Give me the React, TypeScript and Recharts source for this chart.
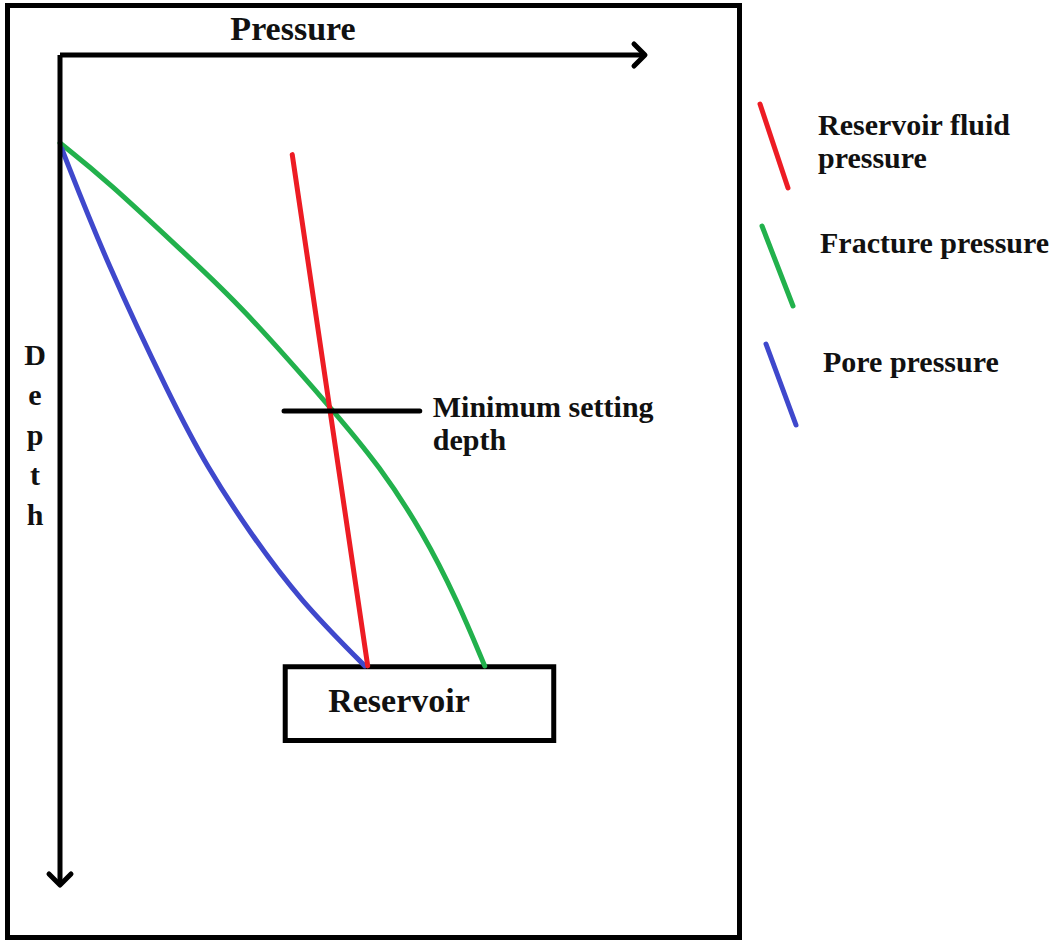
import React from "react";
import {
  ComposedChart,
  Line,
  XAxis,
  YAxis,
  ReferenceLine,
  ReferenceArea,
  Legend,
} from "recharts";

// schematic units: pressure 0-100 (left to right), depth 0-100 (top to bottom)
const fracturePressure = [
  { p: 0, d: 10.6 },
  { p: 8.0, d: 15.1 },
  { p: 22.2, d: 24.5 },
  { p: 30.5, d: 29.9 },
  { p: 46.7, d: 42.8 },
  { p: 54.7, d: 49.6 },
  { p: 62.1, d: 57.6 },
  { p: 67.9, d: 65.7 },
  { p: 72.6, d: 73.6 },
];

const porePressure = [
  { p: 0.3, d: 11.3 },
  { p: 8.0, d: 25.1 },
  { p: 19.1, d: 41.6 },
  { p: 25.1, d: 49.6 },
  { p: 32.5, d: 57.6 },
  { p: 41.0, d: 65.7 },
  { p: 52.1, d: 73.6 },
];

const reservoirFluidPressure = [
  { p: 39.7, d: 12.0 },
  { p: 52.6, d: 73.6 },
];

const minSettingDepth = 42.9;
const minSettingSpan = [38.3, 61.5];
const reservoirTop = 73.7;
const reservoirBottom = 82.6;
const reservoirSpan = [38.5, 84.4];

const legendOrder = ["Reservoir fluid pressure", "Fracture pressure", "Pore pressure"];

const FONT = "'Liberation Serif', 'Times New Roman', serif";

function ChartLegend({ payload }: any) {
  const items = legendOrder.map((name) =>
    (payload || []).find((p: any) => p.value === name)
  );
  const colorOf = (i: number) => (items[i] ? items[i].color : "#000");
  const textStyle = { fontFamily: FONT, fontWeight: 700, fontSize: 30, fill: "#111" };
  return (
    <svg width={314} height={345}>
      <line x1={20} y1={14} x2={48} y2={98} stroke={colorOf(0)} strokeWidth={5} strokeLinecap="round" />
      <text x={78} y={45} style={textStyle}>Reservoir fluid</text>
      <text x={78} y={78} style={textStyle}>pressure</text>
      <line x1={22} y1={136} x2={53} y2={216} stroke={colorOf(1)} strokeWidth={5} strokeLinecap="round" />
      <text x={80} y={163} style={textStyle}>Fracture pressure</text>
      <line x1={26} y1={254} x2={56} y2={335} stroke={colorOf(2)} strokeWidth={5} strokeLinecap="round" />
      <text x={83} y={282} style={textStyle}>Pore pressure</text>
    </svg>
  );
}

function PressureLabel({ viewBox }: any) {
  return (
    <text
      x={60 + 233}
      y={40}
      textAnchor="middle"
      style={{ fontFamily: FONT, fontWeight: 700, fontSize: 34, fill: "#111" }}
    >
      Pressure
    </text>
  );
}

function DepthLabel() {
  const letters = "Depth".split("");
  return (
    <text
      textAnchor="middle"
      style={{ fontFamily: FONT, fontWeight: 700, fontSize: 30, fill: "#111" }}
    >
      {letters.map((ch, i) => (
        <tspan key={i} x={35} y={365 + i * 40}>
          {ch}
        </tspan>
      ))}
    </text>
  );
}

function MinSettingLabel({ viewBox }: any) {
  const x = viewBox.x + viewBox.width + 13;
  return (
    <text style={{ fontFamily: FONT, fontWeight: 700, fontSize: 30, fill: "#111" }}>
      <tspan x={x} y={viewBox.y + 6}>Minimum setting</tspan>
      <tspan x={x} y={viewBox.y + 39}>depth</tspan>
    </text>
  );
}

function ReservoirLabel({ viewBox }: any) {
  return (
    <text
      x={viewBox.x + 43}
      y={viewBox.y + 45}
      style={{ fontFamily: FONT, fontWeight: 700, fontSize: 34, fill: "#111" }}
    >
      Reservoir
    </text>
  );
}

export default function App() {
  return (
    <div style={{ position: "absolute", left: 0, top: 0, width: 1054, height: 942, background: "#fff" }}>
      <svg width={1054} height={942} style={{ position: "absolute", left: 0, top: 0 }}>
        <defs>
          <marker id="chev" markerUnits="userSpaceOnUse" markerWidth={30} markerHeight={30} refX={16} refY={15} orient="auto" viewBox="0 0 30 30">
            <path d="M5,4 L16,15 L5,26" fill="none" stroke="#000" strokeWidth={5} strokeLinecap="round" strokeLinejoin="round" />
          </marker>
        </defs>
        <rect x={7.5} y={5.5} width={732} height={932} fill="none" stroke="#000" strokeWidth={5} />
      </svg>
      <div style={{ position: "absolute", left: 0, top: 0 }}>
        <ComposedChart
          width={1054}
          height={942}
          margin={{ top: 45, right: 409, bottom: 57, left: 50 }}
        >
          <XAxis
            type="number"
            dataKey="p"
            domain={[0, 100]}
            orientation="top"
            height={10}
            tick={false}
            tickLine={false}
            axisLine={{ stroke: "#000", strokeWidth: 5, markerEnd: "url(#chev)" }}
            label={<PressureLabel />}
          />
          <YAxis
            type="number"
            dataKey="d"
            domain={[0, 100]}
            reversed
            width={10}
            tick={false}
            tickLine={false}
            axisLine={{ stroke: "#000", strokeWidth: 5, markerEnd: "url(#chev)" }}
            label={<DepthLabel />}
          />
          <ReferenceArea
            x1={reservoirSpan[0]}
            x2={reservoirSpan[1]}
            y1={reservoirTop}
            y2={reservoirBottom}
            fill="#fff"
            fillOpacity={1}
            stroke="#000"
            strokeWidth={5}
            label={<ReservoirLabel />}
          />
          <Line
            data={fracturePressure}
            dataKey="d"
            name="Fracture pressure"
            type="basis"
            stroke="#22b14c"
            strokeWidth={5}
            strokeLinecap="round"
            dot={false}
            activeDot={false}
            isAnimationActive={false}
          />
          <Line
            data={porePressure}
            dataKey="d"
            name="Pore pressure"
            type="basis"
            stroke="#3f48cc"
            strokeWidth={5}
            strokeLinecap="round"
            dot={false}
            activeDot={false}
            isAnimationActive={false}
          />
          <Line
            data={reservoirFluidPressure}
            dataKey="d"
            name="Reservoir fluid pressure"
            type="linear"
            stroke="#ed1c24"
            strokeWidth={5}
            strokeLinecap="round"
            dot={false}
            activeDot={false}
            isAnimationActive={false}
          />
          <ReferenceLine
            segment={[
              { x: minSettingSpan[0], y: minSettingDepth },
              { x: minSettingSpan[1], y: minSettingDepth },
            ]}
            stroke="#000"
            strokeWidth={5}
            strokeLinecap="round"
            label={<MinSettingLabel />}
          />
          <Legend
            layout="horizontal"
            verticalAlign="middle"
            align="center"
            content={<ChartLegend />}
            wrapperStyle={{ position: "absolute", left: 740, top: 90, width: 314, height: 345 }}
          />
        </ComposedChart>
      </div>
    </div>
  );
}
